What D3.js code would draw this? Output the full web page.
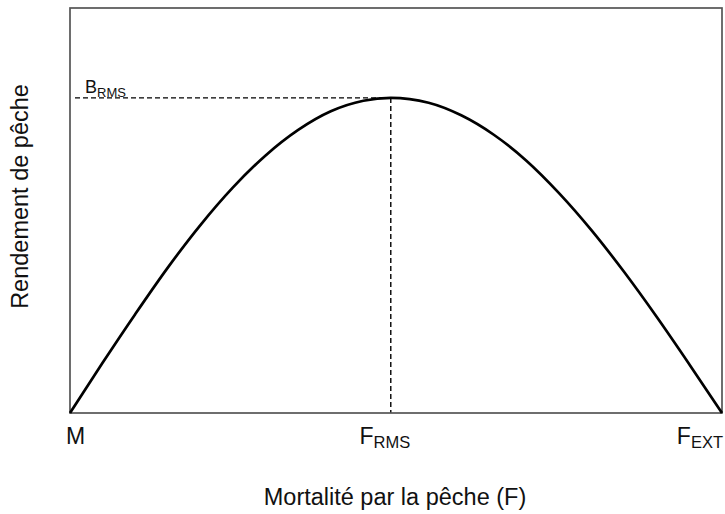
<!DOCTYPE html>
<html>
<head>
<meta charset="utf-8">
<script src="https://cdn.jsdelivr.net/npm/d3@7"></script>
<style>
  html, body { margin: 0; padding: 0; background: #fff; }
  svg { display: block; }
  text { font-family: "Liberation Sans", Arial, sans-serif; fill: #111; }
</style>
</head>
<body>
<svg id="chart" width="725" height="514"></svg>
<script>
// Fishing mortality (relative units, M = 0, F_EXT = 100)
const fishingMortality = [0, 5, 10, 15, 20, 25, 30, 35, 40, 45, 49.2, 55, 60, 65, 70, 75, 80, 85, 90, 95, 100];
// Yield (relative units, top of frame = 100)
const yieldValues = [0, 12.4, 24.4, 35.9, 46.4, 55.7, 63.6, 69.9, 74.5, 77.1, 77.8, 76.6, 73.5, 68.7, 62.3, 54.3, 45.1, 34.8, 23.7, 12.0, 0];
// Reference points
const fMSY = 49.2;
const bMSY = 77.8;
const tickLabels = [
  { value: 0, main: "M", sub: "" },
  { value: fMSY, main: "F", sub: "RMS" },
  { value: 100, main: "F", sub: "EXT" }
];
const xTitle = "Mortalité par la pêche (F)";
const yTitle = "Rendement de pêche";
const bLabel = { main: "B", sub: "RMS" };

const svg = d3.select("#chart");
const mLeft = 70, mRight = 722, mTop = 8, mBottom = 413;

const x = d3.scaleLinear().domain([0, 100]).range([mLeft, mRight]);
const y = d3.scaleLinear().domain([0, 100]).range([mBottom, mTop]);

// dashed reference lines
svg.append("line")
  .attr("x1", x(0) + 5).attr("x2", x(fMSY))
  .attr("y1", y(bMSY)).attr("y2", y(bMSY))
  .attr("stroke", "#000").attr("stroke-width", 1.4)
  .attr("stroke-dasharray", "5,3");
svg.append("line")
  .attr("x1", x(fMSY)).attr("x2", x(fMSY))
  .attr("y1", y(bMSY)).attr("y2", y(0))
  .attr("stroke", "#000").attr("stroke-width", 1.4)
  .attr("stroke-dasharray", "5,3");

// frame
svg.append("rect")
  .attr("x", x(0)).attr("y", y(100))
  .attr("width", x(100) - x(0)).attr("height", y(0) - y(100))
  .attr("fill", "none").attr("stroke", "#555").attr("stroke-width", 1.7);

// curve
const data = fishingMortality.map((f, i) => ({ f, yv: yieldValues[i] }));
svg.append("path")
  .datum(data)
  .attr("d", d3.line().x(d => x(d.f)).y(d => y(d.yv)).curve(d3.curveMonotoneX))
  .attr("fill", "none").attr("stroke", "#000").attr("stroke-width", 2.7)
  .attr("stroke-linejoin", "round");

// tick labels
tickLabels.forEach((t, i) => {
  const anchor = i === 0 ? "start" : (i === 1 ? "middle" : "end");
  const dx = i === 0 ? -4 : (i === 1 ? -6 : 1);
  const txt = svg.append("text")
    .attr("x", x(t.value) + dx).attr("y", 444)
    .attr("text-anchor", anchor)
    .attr("font-size", 23);
  txt.append("tspan").text(t.main);
  if (t.sub) txt.append("tspan").attr("font-size", 16.5).attr("dy", 4).text(t.sub);
});

// B_RMS label
const bt = svg.append("text")
  .attr("x", x(0) + 15).attr("y", y(bMSY) - 5)
  .attr("font-size", 18);
bt.append("tspan").text(bLabel.main);
bt.append("tspan").attr("font-size", 13).attr("dy", 4).text(bLabel.sub);

// axis titles
svg.append("text")
  .attr("x", (mLeft + mRight) / 2 - 1).attr("y", 505)
  .attr("text-anchor", "middle").attr("font-size", 23.5)
  .text(xTitle);
svg.append("text")
  .attr("transform", `translate(28,${(mTop + mBottom) / 2 - 14}) rotate(-90)`)
  .attr("text-anchor", "middle").attr("font-size", 23.5)
  .text(yTitle);
</script>
</body>
</html>
